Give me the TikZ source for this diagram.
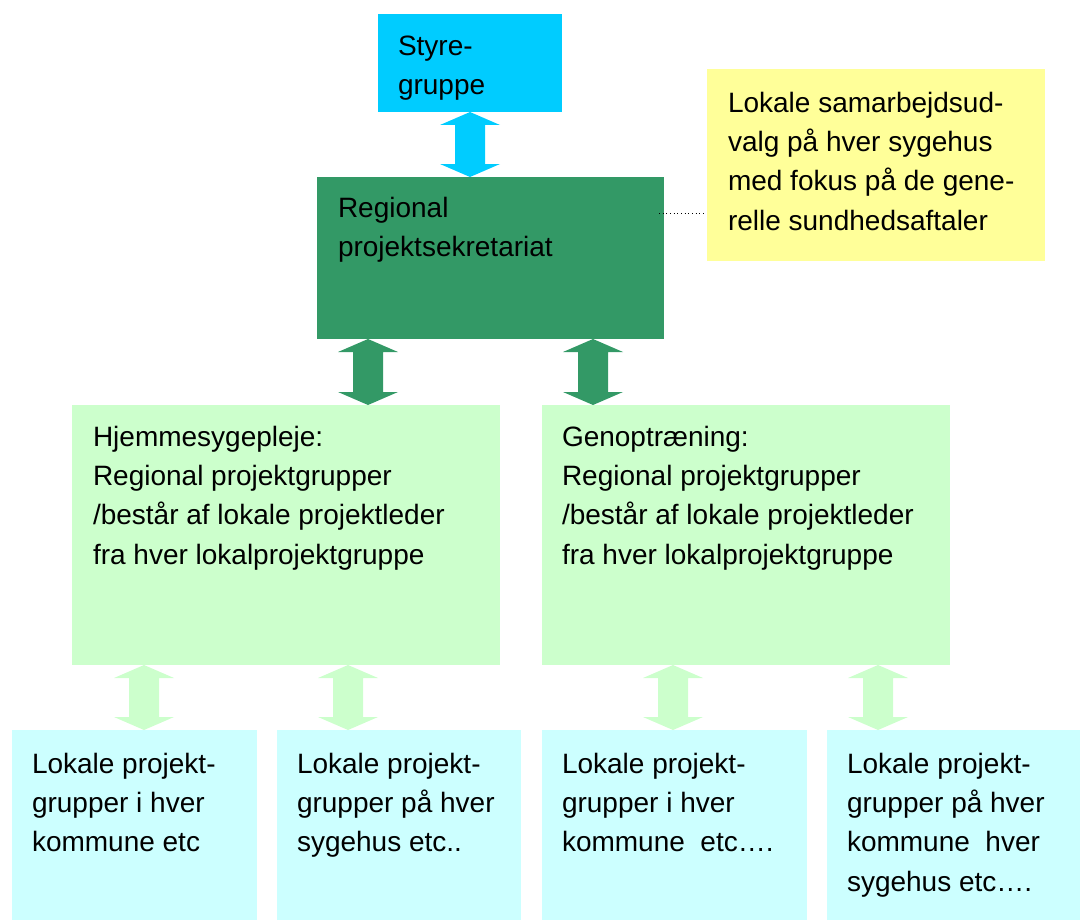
\documentclass[tikz,border=0pt]{standalone}
\usepackage{fontspec}
\setmainfont{Liberation Sans}
\usetikzlibrary{calc}
\definecolor{cStyre}{HTML}{00CCFF}
\definecolor{cReg}{HTML}{339966}
\definecolor{cYel}{HTML}{FFFF99}
\definecolor{cLg}{HTML}{CCFFCC}
\definecolor{cLc}{HTML}{CCFFFF}
\tikzset{
  box/.style={rectangle, draw=none, inner sep=0pt, outer sep=0pt, anchor=north west},
  txt/.style={inner sep=0pt, outer sep=0pt, anchor=north west, align=left,
    font=\fontsize{21}{29.6}\selectfont},
}
\newcommand\bx[6]{%
  \node[box, fill=#6, minimum width={(#4-#2)*0.75pt}, minimum height={(#5-#3)*0.75pt}] (#1) at (#2,#3) {};}
\newcommand\fatarrow[4]{%
  \fill[#1] let \p1=(#3.south), \p2=(#4.north), \p0=(#2,0) in
    (\x0,\y1) -- (\x0+22.5pt,\y1-9.75pt) -- (\x0+11.25pt,\y1-9.75pt)
    -- (\x0+11.25pt,\y2+9.75pt) -- (\x0+22.5pt,\y2+9.75pt) -- (\x0,\y2)
    -- (\x0-22.5pt,\y2+9.75pt) -- (\x0-11.25pt,\y2+9.75pt)
    -- (\x0-11.25pt,\y1-9.75pt) -- (\x0-22.5pt,\y1-9.75pt) -- cycle;}
\begin{document}
\begin{tikzpicture}[x=0.75pt,y=-0.75pt]
\useasboundingbox (0,0) rectangle (1080,920);
% boxes
\bx{sty}{378}{14}{562}{112}{cStyre}
\bx{reg}{317}{177}{664}{339}{cReg}
\bx{yel}{707}{69}{1045}{261}{cYel}
\bx{hj}{72}{405}{500}{665}{cLg}
\bx{gen}{542}{405}{950}{665}{cLg}
\bx{b1}{12}{730}{257}{920}{cLc}
\bx{b2}{277}{730}{521}{920}{cLc}
\bx{b3}{542}{730}{807}{920}{cLc}
\bx{b4}{827}{730}{1080}{920}{cLc}
% texts
\node[txt] (tsty) at ($(sty.north west)+(20,13.4)$) {\strut Styre-\\gruppe};
\node[txt] (treg) at ($(reg.north west)+(21,12.4)$) {\strut Regional\\projektsekretariat};
\node[txt] (tyel) at ($(yel.north west)+(21,15.4)$) {\strut Lokale samarbejdsud-\\valg på hver sygehus\\med fokus på de gene-\\relle sundhedsaftaler};
\node[txt] (thj) at ($(hj.north west)+(21,13.4)$) {\strut Hjemmesygepleje:\\Regional projektgrupper\\/består af lokale projektleder\\fra hver lokalprojektgruppe};
\node[txt] (tgen) at ($(gen.north west)+(20,13.4)$) {\strut Genoptræning:\\Regional projektgrupper\\/består af lokale projektleder\\fra hver lokalprojektgruppe};
\node[txt] (tb1) at ($(b1.north west)+(20,15.4)$) {\strut Lokale projekt-\\grupper i hver\\kommune etc};
\node[txt] (tb2) at ($(b2.north west)+(20,15.4)$) {\strut Lokale projekt-\\grupper på hver\\sygehus etc..};
\node[txt] (tb3) at ($(b3.north west)+(20,15.4)$) {\strut Lokale projekt-\\grupper i hver\\kommune\ \ etc….};
\node[txt] (tb4) at ($(b4.north west)+(20,15.4)$) {\strut Lokale projekt-\\grupper på hver\\kommune\ \ hver\\sygehus etc….};
% arrows
\fatarrow{cStyre}{470}{sty}{reg}
\fatarrow{cReg}{368}{reg}{hj}
\fatarrow{cReg}{593}{reg}{gen}
\fatarrow{cLg}{144}{hj}{b1}
\fatarrow{cLg}{348}{hj}{b2}
\fatarrow{cLg}{673}{gen}{b3}
\fatarrow{cLg}{878}{gen}{b4}
% dotted connector
\coordinate (d1) at (659,213);
\coordinate (d2) at (705,213);
\draw[black, line width=0.75pt, dotted] (d1) -- (d2);
\end{tikzpicture}
\end{document}
